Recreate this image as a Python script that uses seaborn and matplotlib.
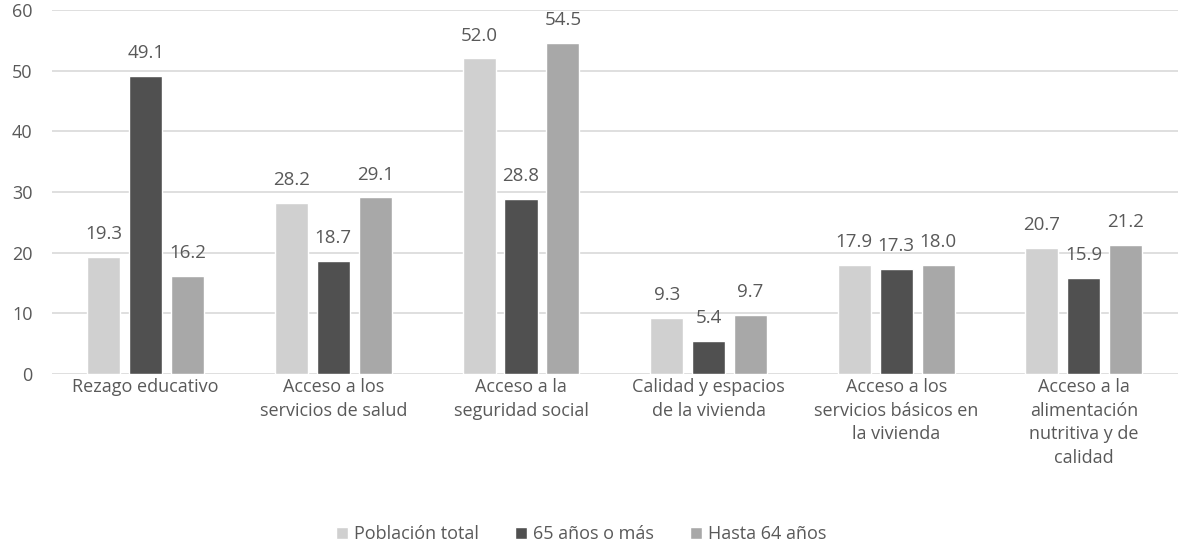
import pandas as pd
import matplotlib.pyplot as plt
import seaborn as sns

# Chart data
categories = ['Rezago educativo',
              'Acceso a los\nservicios de salud',
              'Acceso a la\nseguridad social',
              'Calidad y espacios\nde la vivienda',
              'Acceso a los\nservicios básicos en\nla vivienda',
              'Acceso a la\nalimentación\nnutritiva y de\ncalidad']
series = ['Población total', '65 años o más', 'Hasta 64 años']
poblacion_total = [19.3, 28.2, 52.0, 9.3, 17.9, 20.7]
mayores_65 = [49.1, 18.7, 28.8, 5.4, 17.3, 15.9]
hasta_64 = [16.2, 29.1, 54.5, 9.7, 18.0, 21.2]
colors = ['#d0d0d0', '#505050', '#a8a8a8']

df = pd.DataFrame({
    'categoria': categories * 3,
    'grupo': [s for s in series for _ in categories],
    'valor': poblacion_total + mayores_65 + hasta_64,
})

sns.set_style('white')
plt.rcParams['font.family'] = ['Open Sans', 'DejaVu Sans']
text_color = '#595959'

fig = plt.figure(figsize=(11.8, 5.5), dpi=100)
ax = fig.add_axes([0.044, 0.32, 0.954, 0.662])

sns.barplot(data=df, x='categoria', y='valor', hue='grupo', palette=colors,
            width=0.67, gap=0.21, saturation=1, ax=ax, legend=True)

for cont in ax.containers:
    ax.bar_label(cont, fmt='%.1f', padding=10, fontsize=13.5, color=text_color)

ax.set_ylim(0, 60)
ax.set_yticks(range(0, 61, 10))
ax.yaxis.grid(True, color='#d9d9d9', linewidth=1.2)
ax.set_axisbelow(True)
for s in ax.spines.values():
    s.set_visible(False)
ax.tick_params(axis='both', length=0, labelsize=13, labelcolor=text_color)
ax.tick_params(axis='x', pad=3)
ax.tick_params(axis='y', pad=14)
for lbl in ax.get_xticklabels():
    lbl.set_linespacing(1.4)
ax.set_xlabel('')
ax.set_ylabel('')

ax.legend(loc='center', bbox_to_anchor=(0.47, -0.44), ncol=3, frameon=False,
          fontsize=13, labelcolor=text_color, handlelength=0.7, handleheight=0.7,
          handletextpad=0.3, columnspacing=2.0, title=None)

plt.savefig('out.png', dpi=100)
